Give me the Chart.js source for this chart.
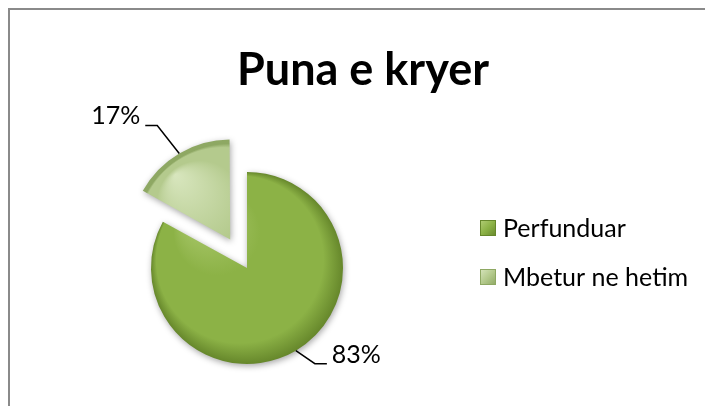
<!DOCTYPE html>
<html>
<head>
<meta charset="utf-8">
<script src="https://cdn.jsdelivr.net/npm/chart.js@4.4.1/dist/chart.umd.min.js"></script>
<style>
  html, body { margin: 0; padding: 0; background: #fff; }
  #wrap { position: relative; width: 705px; height: 406px; overflow: hidden; }
  #marco { position: absolute; left: 8px; top: 8px; width: 800px; height: 500px;
           border-top: 2px solid #8a8a8a; border-left: 2px solid #8a8a8a; }
  canvas { position: absolute; left: 0; top: 0; }
</style>
</head>
<body>
<div id="wrap">
  <div id="marco"></div>
  <canvas id="graficaPastel" width="705" height="406"></canvas>
</div>
<script>
// datos del grafico
const titulo = 'Puna e kryer';
const categorias = ['Perfunduar', 'Mbetur ne hetim'];
const valores = [83, 17];
const separacion = [0, 132];   // explosion de cada porcion

// tonos [claro, medio, oscuro] para el efecto bisel
const tonos = [
    ['#b3cf78', '#8cb246', '#66872b'],
    ['#d8e6be', '#b4ca8d', '#8ea863']
];
const radio = 96;
const guias = [[19, 13], [-22, -28]];   // codo de la linea guia respecto al borde

function relleno(c) {
    const t = tonos[c.dataIndex];
    const area = c.chart.chartArea;
    if (!area) return t[1];
    const cx = (area.left + area.right) / 2;
    const cy = (area.top + area.bottom) / 2;
    // foco arriba a la izquierda: bordes claros y borde exterior oscuro
    const g = c.chart.ctx.createRadialGradient(cx - 55, cy - 65, 0, cx, cy, radio);
    g.addColorStop(0, t[0]);
    g.addColorStop(0.45, t[1]);
    g.addColorStop(0.87, t[1]);
    g.addColorStop(1, t[2]);
    return g;
}

const estiloExcel = {
    id: 'estiloExcel',
    beforeDatasetsDraw(chart) {
        const ctx = chart.ctx;
        ctx.save();
        ctx.shadowColor = 'rgba(0, 0, 0, 0.35)';
        ctx.shadowBlur = 6;
        ctx.shadowOffsetX = 1;
        ctx.shadowOffsetY = 2;
    },
    afterDatasetsDraw(chart) {
        const ctx = chart.ctx;
        ctx.restore();
        const meta = chart.getDatasetMeta(0);
        const total = valores.reduce((a, b) => a + b, 0);

        ctx.save();
        ctx.strokeStyle = '#000';
        ctx.fillStyle = '#000';
        ctx.lineWidth = 1.5;
        ctx.font = '25px Lato';
        ctx.textBaseline = 'alphabetic';
        meta.data.forEach((arc, i) => {
            const p = arc.getProps(['x', 'y', 'startAngle', 'endAngle', 'outerRadius'], true);
            const off = (arc.options.offset || 0) / 4;
            const mid = (p.startAngle + p.endAngle) / 2;
            const fix = 1 - Math.sin(Math.min(Math.PI, p.endAngle - p.startAngle));
            const cx = p.x + Math.cos(mid) * off;
            const cy = p.y + Math.sin(mid) * off;
            const r = p.outerRadius + off * fix;
            const ex = cx + Math.cos(mid) * r;
            const ey = cy + Math.sin(mid) * r;
            const kx = ex + guias[i][0];
            const ky = ey + guias[i][1];
            const dir = guias[i][0] >= 0 ? 1 : -1;
            const fx = kx + dir * 12;
            ctx.beginPath();
            ctx.moveTo(ex, ey);
            ctx.lineTo(kx, ky);
            ctx.lineTo(fx, ky);
            ctx.stroke();
            ctx.textAlign = dir > 0 ? 'left' : 'right';
            ctx.fillText(Math.round(valores[i] / total * 100) + '%', fx + dir * 5, ky - 1);
        });

        // titulo
        ctx.font = 'bold 45px Lato';
        ctx.textAlign = 'center';
        ctx.fillText(titulo, 363, 85);

        // leyenda
        ctx.font = '25px Lato';
        ctx.textAlign = 'left';
        categorias.forEach((cat, i) => {
            const base = 237 + i * 49;
            const bx = 480, by = base - 17;
            const g = ctx.createLinearGradient(bx, by, bx + 16, by + 16);
            g.addColorStop(0, tonos[i][0]);
            g.addColorStop(0.5, tonos[i][1]);
            g.addColorStop(1, tonos[i][2]);
            ctx.fillStyle = g;
            ctx.fillRect(bx, by, 16, 16);
            ctx.strokeStyle = tonos[i][2];
            ctx.lineWidth = 1;
            ctx.strokeRect(bx + 0.5, by + 0.5, 15, 15);
            ctx.fillStyle = '#000';
            ctx.fillText(cat, 503, base);
        });
        ctx.restore();
    }
};

document.addEventListener('DOMContentLoaded', function() {
    const ctx = document.getElementById('graficaPastel').getContext('2d');

    new Chart(ctx, {
        type: 'pie',
        data: {
            labels: categorias,
            datasets: [{
                data: valores,
                backgroundColor: relleno,
                borderWidth: 0,
                offset: separacion,
                hoverOffset: 0
            }]
        },
        options: {
            responsive: false,
            devicePixelRatio: 1,
            animation: false,
            radius: radio,
            layout: {
                padding: { left: 100, right: 311, top: 140, bottom: 10 }
            },
            plugins: {
                legend: { display: false },
                title: { display: false },
                tooltip: { enabled: false }
            }
        },
        plugins: [estiloExcel]
    });
});
</script>
</body>
</html>
